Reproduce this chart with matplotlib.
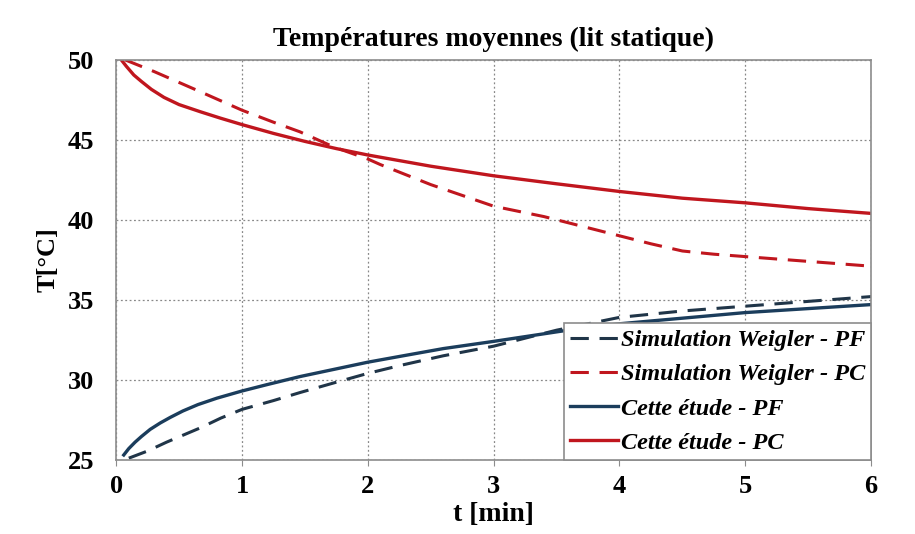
import matplotlib
matplotlib.use("Agg")
import matplotlib.pyplot as plt

plt.rcParams['font.family'] = ['Liberation Serif', 'DejaVu Serif']

# values
t_pc_sim = [0.07, 0.3, 0.67, 1.0, 1.25, 1.46, 1.73, 2.0, 2.1, 2.5, 3.0, 3.4, 4.0, 4.25, 4.5, 4.75, 5.0, 5.5, 6.0]
T_pc_sim = [50.0, 49.27, 48.0, 46.85, 46.1, 45.5, 44.55, 43.8, 43.45, 42.2, 40.85, 40.2, 39.0, 38.5, 38.05, 37.85, 37.7, 37.4, 37.1]

t_pc_etude = [0.04, 0.08, 0.14, 0.2, 0.28, 0.38, 0.5, 0.67, 0.83, 1.0, 1.25, 1.5, 1.75, 2.0, 2.5, 3.0, 3.5, 4.0, 4.5, 5.0, 5.5, 6.0]
T_pc_etude = [50.0, 49.6, 49.05, 48.65, 48.15, 47.65, 47.2, 46.75, 46.35, 45.95, 45.4, 44.9, 44.45, 44.05, 43.35, 42.75, 42.25, 41.77, 41.35, 41.06, 40.7, 40.4]

t_pf_sim = [0.1, 0.25, 0.4, 0.55, 0.67, 0.83, 1.0, 1.25, 1.46, 1.75, 2.0, 2.26, 2.6, 3.0, 3.5, 4.0, 4.5, 5.0, 5.5, 6.0]
T_pf_sim = [25.1, 25.55, 26.1, 26.6, 27.0, 27.6, 28.15, 28.7, 29.2, 29.85, 30.4, 30.9, 31.5, 32.1, 33.1, 33.9, 34.3, 34.6, 34.9, 35.2]

t_pf_etude = [0.06, 0.1, 0.15, 0.2, 0.27, 0.35, 0.43, 0.53, 0.65, 0.8, 1.0, 1.2, 1.46, 1.7, 2.0, 2.26, 2.6, 3.0, 3.59, 4.0, 4.5, 5.0, 5.5, 6.0]
T_pf_etude = [25.3, 25.7, 26.1, 26.45, 26.9, 27.3, 27.65, 28.05, 28.45, 28.85, 29.3, 29.7, 30.2, 30.6, 31.1, 31.47, 31.95, 32.4, 33.1, 33.5, 33.85, 34.2, 34.45, 34.7]

red = '#c0161e'
blue = '#1b3d5c'

fig = plt.figure(figsize=(9.15, 5.34), dpi=100)
ax = fig.add_axes([0.127, 0.139, 0.825, 0.749])

ax.plot(t_pf_sim, T_pf_sim, color='#203548', lw=2.2, dashes=(6, 3.5), label='Simulation Weigler - PF')
ax.plot(t_pc_sim, T_pc_sim, color=red, lw=2.2, dashes=(6, 3.5), label='Simulation Weigler - PC')
ax.plot(t_pf_etude, T_pf_etude, color=blue, lw=2.4, label='Cette étude - PF')
ax.plot(t_pc_etude, T_pc_etude, color=red, lw=2.4, label='Cette étude - PC')

ax.set_xlim(0, 6)
ax.set_ylim(25, 50)
ax.set_xticks(range(0, 7))
ax.set_yticks(range(25, 51, 5))
ax.grid(True, color='#888888', linestyle=(0, (1.5, 2)), linewidth=0.9)
for s in ax.spines.values():
    s.set_color('#8c8c8c')
    s.set_linewidth(1.2)
ax.tick_params(axis='x', direction='out', length=4, color='#8c8c8c', pad=7)
ax.tick_params(axis='y', length=0, pad=16)
for lbl in ax.get_xticklabels() + ax.get_yticklabels():
    lbl.set_fontsize(19)
    lbl.set_fontweight('bold')

ax.set_title('Températures moyennes (lit statique)', fontsize=20, fontweight='bold', pad=10)
ax.set_xlabel('t [min]', fontsize=20, fontweight='bold', labelpad=3)
ax.set_ylabel('T[°C]', fontsize=19, fontweight='bold', labelpad=6)

leg = ax.legend(loc='lower right', borderaxespad=0, fancybox=False, framealpha=1,
                edgecolor='#8c8c8c', handlelength=2.0, handletextpad=0.1,
                borderpad=0.25, labelspacing=0.5,
                prop={'family': 'Liberation Serif', 'style': 'italic', 'weight': 'bold', 'size': 17.5})
leg.get_frame().set_linewidth(1.2)

fig.savefig('out.png', dpi=100)
